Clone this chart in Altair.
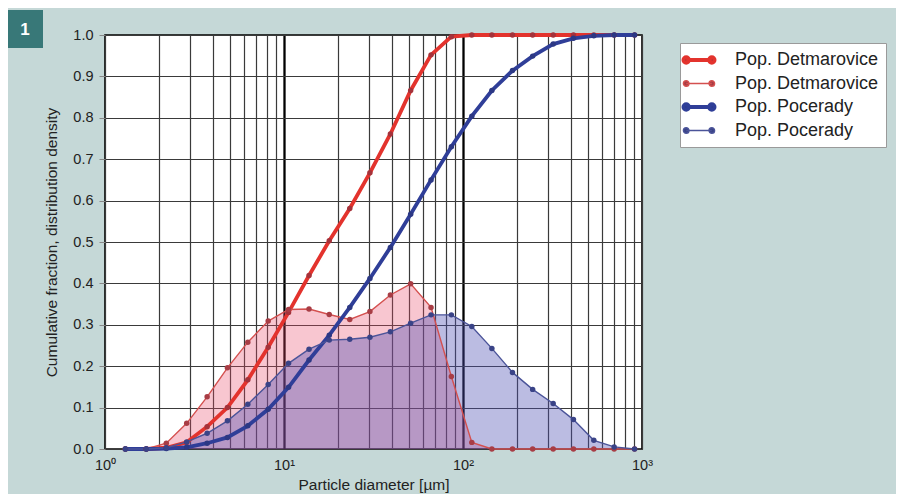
import altair as alt
import pandas as pd

# ---------------- data ----------------
diameters = [1.3, 1.7, 2.2, 2.86, 3.72, 4.83, 6.28, 8.16, 10.6, 13.8, 17.9, 23.3, 30.2,
             39.3, 51.0, 66.3, 86.1, 112, 145, 189, 245, 319, 414, 538, 699, 909]
det_cum = [0.0, 0.0, 0.003, 0.016, 0.054, 0.100, 0.167, 0.246, 0.330, 0.419, 0.503, 0.581, 0.667,
           0.761, 0.866, 0.952, 0.996, 1.0, 1.0, 1.0, 1.0, 1.0, 1.0, 1.0, 1.0, 1.0]
det_den = [0.0, 0.0, 0.014, 0.062, 0.126, 0.196, 0.258, 0.309, 0.337, 0.338, 0.325, 0.313, 0.332,
           0.372, 0.399, 0.342, 0.175, 0.016, 0.0, 0.0, 0.0, 0.0, 0.0, 0.0, 0.0, 0.0]
poc_cum = [0.0, 0.0, 0.001, 0.004, 0.014, 0.028, 0.056, 0.096, 0.149, 0.215, 0.275, 0.342, 0.412,
           0.487, 0.567, 0.650, 0.730, 0.804, 0.866, 0.914, 0.949, 0.978, 0.992, 0.998, 1.0, 1.0]
poc_den = [0.0, 0.0, 0.003, 0.017, 0.038, 0.068, 0.108, 0.156, 0.207, 0.241, 0.263, 0.265, 0.270,
           0.283, 0.304, 0.324, 0.324, 0.296, 0.243, 0.185, 0.144, 0.110, 0.071, 0.021, 0.005, 0.0]

series_keys = ["Det cum", "Det dens", "Poc cum", "Poc dens"]
series_labels = ["Pop. Detmarovice", "Pop. Detmarovice", "Pop. Pocerady", "Pop. Pocerady"]
y_ticks = [0.0, 0.1, 0.2, 0.3, 0.4, 0.5, 0.6, 0.7, 0.8, 0.9, 1.0]
x_decades = [1, 10, 100, 1000]
x_tick_labels = ["10⁰", "10¹", "10²", "10³"]
panel_label = "1"
x_title = "Particle diameter [µm]"
y_title = "Cumulative fraction, distribution density"

# ---------------- build tables ----------------
rows = []
for key, vals in zip(series_keys, [det_cum, det_den, poc_cum, poc_den]):
    for d, v in zip(diameters, vals):
        rows.append({"d": d, "v": v, "s": key})
df = pd.DataFrame(rows)

grid_values = []
for dec in x_decades[:-1]:
    grid_values += [dec * k for k in range(1, 10)]
grid_values.append(x_decades[-1])

label_expr = " : ".join(
    f"datum.value == {v} ? '{t}'" for v, t in zip(x_decades, x_tick_labels)
) + " : ''"
legend_label_expr = " : ".join(
    f"datum.label == '{k}' ? '{l}'" for k, l in zip(series_keys, series_labels)
) + " : datum.label"

line_colors = ["#e3332d", "#d4504f", "#2f3e98", "#4b5499"]
marker_colors = ["#a5323a", "#a83d45", "#2c3884", "#3a4387"]
width_range = [3.8, 1.4, 3.8, 1.4]

FONT = "Liberation Sans"

x_enc = alt.X(
    "d:Q",
    scale=alt.Scale(type="log", domain=[1, 1000], nice=False),
    axis=alt.Axis(
        values=grid_values, labelExpr=label_expr, labelOverlap=False, labelFlush=False,
        title=x_title, titleFontSize=15.5, titleFontWeight="normal", titleFont=FONT,
        titleColor="#222", titlePadding=6,
        labelFontSize=14.5, labelFont=FONT, labelColor="#222", labelPadding=9,
        ticks=False, domain=False,
        gridColor={"condition": {"test": "datum.value == 10 || datum.value == 100", "value": "#000000"},
                   "value": "#3a3a3a"},
        gridWidth={"condition": {"test": "datum.value == 10 || datum.value == 100", "value": 2.3},
                   "value": 1.2},
        gridOpacity=1,
    ),
)
y_enc = alt.Y(
    "v:Q",
    scale=alt.Scale(domain=[0, 1], nice=False),
    axis=alt.Axis(
        values=y_ticks, format=".1f", title=y_title, titleFontSize=15.5,
        titleFontWeight="normal", titleFont=FONT, titleColor="#222", titlePadding=13,
        labelFontSize=14.5, labelFont=FONT, labelColor="#222", labelPadding=6,
        tickSize=6, tickColor="#888", domain=False,
        gridColor="#3a3a3a", gridWidth=1.2, gridOpacity=1,
    ),
)

base = alt.Chart(df)

area_det = base.transform_filter(alt.datum.s == "Det dens").mark_area(
    color="#ea4868", opacity=0.31).encode(x=x_enc, y=y_enc)
area_poc = base.transform_filter(alt.datum.s == "Poc dens").mark_area(
    color="#4c4fb4", opacity=0.38).encode(x=x_enc, y=y_enc)

legend_path = ("M-1.6,0L1.6,0"
               "M-1.25,0a0.35,0.35 0 1,0 -0.7,0a0.35,0.35 0 1,0 0.7,0"
               "M1.95,0a0.35,0.35 0 1,0 -0.7,0a0.35,0.35 0 1,0 0.7,0")
legend_kw = dict(
    title=None, orient="none", legendX=575, legendY=8,
    fillColor="white", strokeColor="#9a9a9a", padding=7,
    labelFontSize=18, labelFont=FONT, labelColor="#222", labelExpr=legend_label_expr,
    symbolType=legend_path, symbolSize=256, symbolOffset=2, labelOffset=26,
    rowPadding=3.5,
    symbolFillColor=alt.ExprRef("scale('color', datum.value)"),
)

lines = base.mark_line().encode(
    x=x_enc, y=y_enc,
    color=alt.Color("s:N", scale=alt.Scale(domain=series_keys, range=line_colors),
                    legend=alt.Legend(**legend_kw)),
    strokeWidth=alt.StrokeWidth("s:N", scale=alt.Scale(type="ordinal", domain=series_keys,
                                                       range=width_range),
                                legend=alt.Legend(**legend_kw)),
)

points = base.mark_circle(size=30, opacity=1).encode(
    x=x_enc, y=y_enc,
    fill=alt.Fill("s:N", scale=alt.Scale(domain=series_keys, range=marker_colors), legend=None),
)

lab_df = pd.DataFrame({"t": [panel_label]})
badge = alt.Chart(lab_df).mark_rect(color="#387878", clip=False).encode(
    x=alt.value(-97), x2=alt.value(-62), y=alt.value(-25), y2=alt.value(13))
badge_text = alt.Chart(lab_df).mark_text(
    color="white", fontSize=17, font=FONT, fontWeight="bold", align="center", baseline="middle",
    clip=False).encode(text="t:N", x=alt.value(-80), y=alt.value(-5))

chart = alt.layer(area_det, area_poc, lines, points, badge, badge_text).properties(
    width=537, height=414,
    autosize=alt.AutoSizeParams(type="none"),
    padding={"left": 97, "top": 27, "right": 254, "bottom": 45},
    background="#c5d8d7",
).configure_view(fill="white", stroke="#000000", strokeWidth=1.6)

chart.save("out.html", embed_options={"renderer": "svg", "actions": False})
